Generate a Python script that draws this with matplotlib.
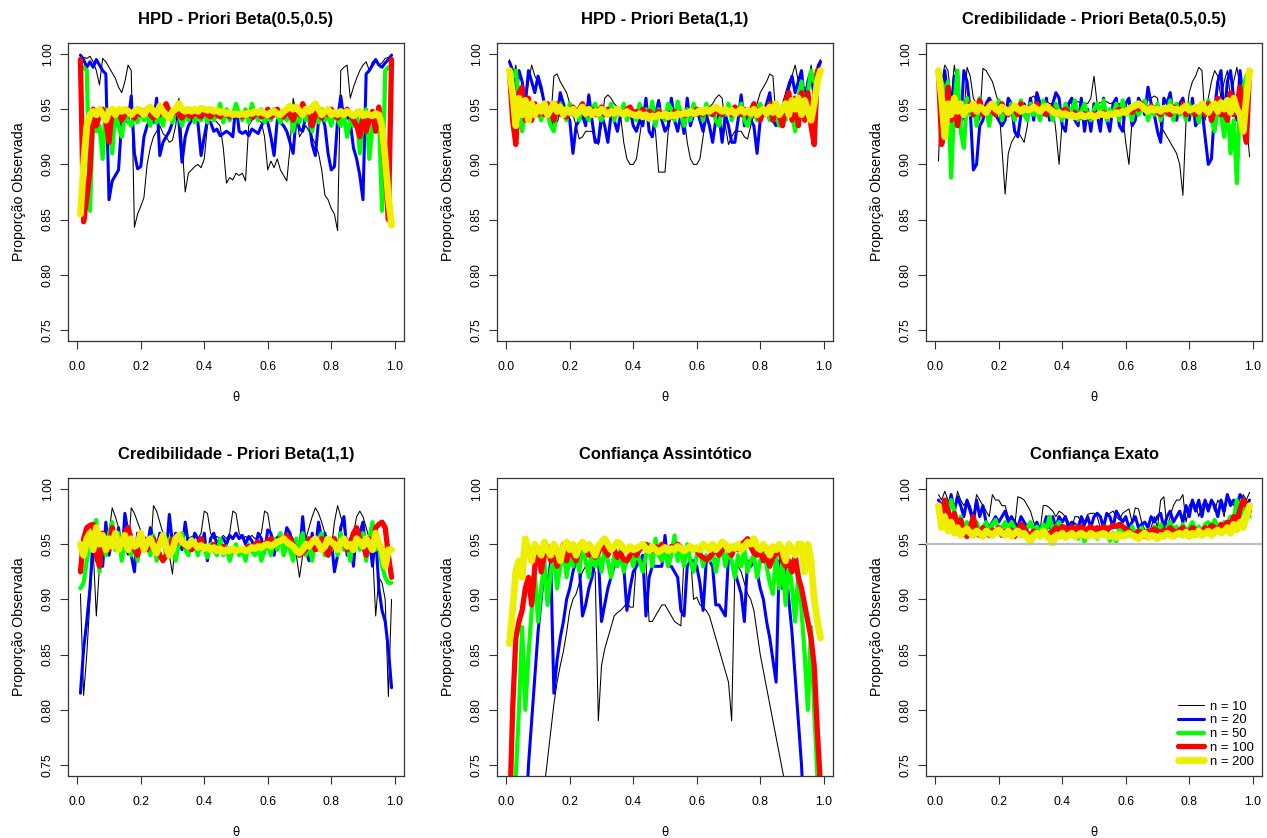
import matplotlib
matplotlib.use("Agg")
import matplotlib.pyplot as plt
import numpy as np

plt.rcParams['font.family'] = ['Liberation Sans', 'DejaVu Sans']

# theta grid 0.01 ... 0.99
theta = [i / 100 for i in range(1, 100)]
legend_labels = ["n = 10", "n = 20", "n = 50", "n = 100", "n = 200"]
titles = ["HPD - Priori Beta(0.5,0.5)", "HPD - Priori Beta(1,1)",
          "Credibilidade - Priori Beta(0.5,0.5)", "Credibilidade - Priori Beta(1,1)",
          "Confiança Assintótico", "Confiança Exato"]
x_ticks = [0.0, 0.2, 0.4, 0.6, 0.8, 1.0]
y_ticks = [0.75, 0.80, 0.85, 0.90, 0.95, 1.00]
nominal = 0.95

p1_n10 = [
    985, 997, 996, 998, 993, 985, 972, 996, 993, 988,
    983, 978, 970, 965, 975, 990, 985, 843, 855, 862,
    870, 900, 915, 925, 930, 935, 928, 925, 920, 922,
    935, 960, 920, 875, 892, 895, 898, 900, 897, 905,
    935, 945, 942, 938, 935, 915, 883, 888, 886, 892,
    890, 892, 885, 935, 940, 942, 940, 938, 925, 895,
    903, 897, 905, 895, 890, 885, 915, 960, 945, 925,
    930, 935, 930, 925, 918, 910, 895, 872, 868, 860,
    855, 840, 985, 988, 990, 960, 970, 978, 985, 990,
    993, 985, 993, 995, 990, 992, 996, 997, 985]
p1_n20 = [
    999, 995, 988, 993, 988, 995, 990, 985, 982, 868,
    885, 890, 895, 940, 945, 938, 962, 910, 896, 898,
    925, 935, 940, 938, 960, 908, 920, 925, 930, 938,
    945, 940, 902, 925, 935, 940, 940, 938, 908, 925,
    940, 938, 930, 932, 926, 928, 930, 928, 925, 955,
    930, 928, 930, 926, 932, 930, 928, 935, 940, 938,
    925, 908, 940, 938, 935, 930, 920, 910, 945, 932,
    930, 945, 940, 918, 908, 940, 945, 935, 910, 895,
    898, 940, 962, 940, 945, 938, 915, 905, 890, 868,
    982, 985, 990, 995, 990, 988, 992, 995, 999]
p1_n50 = [
    985, 988, 985, 858, 945, 930, 935, 905, 950, 940,
    910, 948, 935, 925, 945, 940, 935, 945, 938, 950,
    940, 945, 935, 950, 938, 945, 935, 950, 945, 938,
    950, 945, 935, 948, 940, 950, 938, 945, 940, 948,
    938, 950, 940, 945, 955, 938, 950, 940, 945, 955,
    945, 940, 950, 938, 955, 945, 940, 950, 938, 945,
    940, 950, 945, 938, 945, 940, 950, 930, 945, 938,
    950, 940, 945, 930, 945, 938, 950, 940, 945, 935,
    948, 940, 935, 945, 925, 940, 935, 948, 910, 940,
    950, 905, 935, 930, 945, 858, 985, 988, 985]
p1_n100 = [
    995, 848, 870, 895, 950, 935, 945, 950, 940, 920,
    950, 945, 948, 940, 945, 950, 945, 942, 948, 945,
    948, 950, 945, 942, 948, 945, 950, 955, 948, 945,
    950, 945, 942, 948, 945, 943, 948, 945, 943, 950,
    945, 943, 948, 945, 943, 948, 945, 943, 946, 944,
    946, 943, 945, 948, 943, 945, 948, 943, 945, 950,
    943, 945, 950, 945, 943, 948, 945, 940, 950, 945,
    955, 948, 950, 935, 945, 950, 942, 948, 945, 950,
    945, 942, 948, 945, 950, 945, 940, 935, 925, 945,
    930, 940, 948, 930, 952, 930, 895, 850, 995]
p1_n200 = [
    855, 900, 935, 945, 948, 945, 950, 945, 940, 948,
    950, 945, 950, 948, 950, 948, 945, 948, 950, 948,
    945, 950, 952, 948, 945, 953, 948, 945, 942, 948,
    950, 955, 950, 948, 950, 948, 950, 948, 951, 950,
    949, 950, 948, 949, 947, 948, 946, 947, 945, 946,
    945, 946, 945, 947, 946, 948, 947, 948, 946, 945,
    947, 948, 946, 945, 948, 950, 953, 950, 952, 948,
    945, 950, 948, 952, 955, 950, 945, 948, 950, 945,
    947, 945, 948, 945, 948, 946, 944, 946, 948, 944,
    946, 945, 944, 946, 945, 935, 905, 870, 845]

p2_n10 = [
    995, 975, 990, 965, 970, 955, 975, 990, 980, 975,
    965, 955, 945, 940, 980, 982, 975, 970, 965, 955,
    945, 935, 923, 925, 930, 930, 930, 925, 918, 935,
    960, 963, 960, 955, 952, 945, 920, 905, 900, 900,
    905, 925, 945, 948, 947, 945, 930, 893, 893, 893,
    930, 945, 947, 945, 948, 945, 920, 905, 900, 900,
    905, 925, 945, 952, 955, 960, 963, 960, 935, 918,
    925, 930, 930, 930, 925, 923, 935, 945, 955, 965,
    970, 975, 982, 980, 940, 945, 955, 965, 975, 980,
    990, 975, 955, 970, 965, 990, 975, 990, 995]
p2_n20 = [
    993, 985, 960, 985, 975, 955, 985, 975, 965, 980,
    970, 955, 950, 945, 935, 940, 965, 955, 945, 940,
    910, 935, 940, 945, 935, 963, 940, 920, 920, 945,
    935, 920, 945, 940, 930, 945, 950, 940, 950, 935,
    930, 940, 935, 960, 930, 925, 945, 958, 940, 930,
    935, 960, 940, 930, 945, 928, 960, 935, 945, 950,
    940, 930, 945, 935, 920, 940, 945, 920, 945, 935,
    920, 920, 940, 963, 935, 945, 940, 935, 910, 940,
    945, 955, 965, 940, 935, 945, 950, 955, 970, 980,
    965, 975, 985, 955, 975, 985, 960, 985, 993]
p2_n50 = [
    985, 980, 985, 960, 930, 950, 940, 955, 945, 950,
    940, 955, 945, 935, 930, 950, 955, 945, 940, 955,
    945, 950, 940, 955, 945, 940, 950, 955, 945, 940,
    950, 945, 955, 940, 950, 945, 955, 940, 950, 945,
    940, 955, 945, 950, 940, 957, 935, 950, 945, 940,
    955, 950, 940, 957, 945, 935, 950, 940, 955, 945,
    950, 940, 955, 945, 950, 940, 935, 950, 945, 955,
    940, 950, 945, 955, 940, 935, 945, 950, 940, 955,
    945, 950, 940, 955, 945, 935, 950, 940, 955, 945,
    930, 960, 975, 940, 965, 985, 975, 985, 985]
p2_n100 = [
    985, 940, 918, 965, 970, 940, 960, 940, 955, 945,
    950, 945, 955, 950, 940, 955, 945, 950, 943, 948,
    952, 945, 950, 955, 948, 945, 950, 945, 948, 952,
    945, 950, 947, 945, 950, 948, 945, 950, 952, 946,
    948, 945, 950, 944, 948, 946, 944, 948, 945, 947,
    945, 943, 948, 945, 947, 944, 948, 946, 945, 950,
    947, 945, 950, 948, 945, 950, 947, 945, 950, 948,
    945, 952, 948, 945, 950, 945, 948, 955, 945, 940,
    950, 945, 955, 940, 950, 945, 935, 955, 965, 940,
    960, 935, 965, 940, 965, 935, 918, 985, 985]
p2_n200 = [
    985, 965, 935, 960, 945, 958, 940, 955, 945, 952,
    948, 955, 945, 950, 955, 948, 952, 945, 950, 947,
    950, 945, 948, 952, 946, 950, 945, 948, 946, 950,
    948, 945, 948, 946, 950, 947, 945, 948, 946, 945,
    944, 946, 943, 945, 942, 944, 943, 945, 944, 946,
    943, 945, 944, 946, 945, 947, 946, 948, 946, 947,
    949, 947, 950, 948, 950, 952, 950, 948, 950, 947,
    949, 946, 948, 950, 947, 949, 946, 950, 945, 948,
    950, 946, 952, 947, 955, 945, 950, 955, 945, 958,
    950, 960, 945, 958, 948, 940, 955, 975, 985]

p3_n10 = [
    903, 975, 990, 985, 960, 990, 970, 955, 940, 988,
    980, 960, 955, 940, 987, 985, 980, 975, 965, 955,
    915, 873, 910, 920, 925, 930, 925, 920, 935, 960,
    962, 958, 955, 955, 957, 955, 955, 930, 900, 940,
    955, 955, 956, 955, 957, 955, 956, 955, 960, 980,
    955, 956, 955, 957, 955, 956, 955, 955, 945, 920,
    900, 940, 955, 957, 955, 955, 958, 960, 962, 960,
    935, 930, 925, 920, 915, 910, 900, 872, 940, 965,
    975, 980, 988, 985, 940, 960, 975, 985, 980, 960,
    975, 985, 960, 975, 988, 970, 960, 940, 907]
p3_n20 = [
    985, 930, 985, 960, 940, 980, 970, 935, 985, 975,
    950, 895, 900, 935, 940, 955, 960, 955, 945, 940,
    935, 940, 960, 955, 930, 925, 945, 955, 945, 960,
    940, 965, 955, 945, 960, 940, 955, 965, 960, 935,
    930, 955, 960, 940, 935, 960, 930, 950, 930, 955,
    945, 930, 960, 940, 930, 955, 960, 935, 930, 955,
    960, 935, 940, 960, 955, 945, 970, 955, 945, 930,
    920, 960, 955, 965, 945, 940, 955, 960, 945, 940,
    960, 935, 940, 950, 925, 900, 905, 950, 975, 985,
    940, 975, 985, 960, 940, 985, 960, 930, 985]
p3_n50 = [
    985, 975, 965, 975, 888, 955, 985, 930, 915, 960,
    945, 955, 935, 960, 945, 950, 935, 955, 945, 958,
    940, 950, 945, 955, 940, 950, 958, 945, 940, 955,
    945, 950, 940, 958, 945, 950, 940, 955, 948, 940,
    955, 945, 950, 958, 940, 948, 955, 945, 940, 950,
    955, 945, 958, 940, 950, 945, 955, 940, 958, 945,
    950, 940, 955, 945, 950, 958, 940, 950, 945, 955,
    940, 950, 945, 958, 940, 955, 945, 950, 940, 955,
    945, 950, 938, 955, 945, 958, 940, 930, 950, 945,
    925, 955, 910, 940, 883, 960, 970, 980, 985]
p3_n100 = [
    985, 918, 935, 970, 940, 960, 935, 955, 945, 950,
    955, 945, 950, 958, 945, 950, 955, 948, 945, 950,
    955, 948, 945, 952, 950, 945, 955, 950, 948, 952,
    950, 955, 948, 950, 945, 952, 950, 947, 945, 948,
    950, 946, 944, 947, 945, 943, 946, 945, 943, 946,
    944, 945, 947, 944, 946, 945, 948, 950, 946, 948,
    950, 947, 952, 950, 955, 950, 948, 953, 950, 947,
    945, 950, 948, 945, 952, 950, 947, 955, 945, 950,
    948, 945, 952, 950, 945, 955, 940, 950, 960, 945,
    955, 940, 965, 945, 955, 970, 935, 920, 985]
p3_n200 = [
    985, 960, 925, 955, 945, 960, 948, 955, 945, 952,
    950, 955, 948, 952, 950, 947, 952, 955, 950, 948,
    952, 950, 947, 950, 953, 950, 948, 951, 949, 950,
    952, 950, 948, 951, 953, 950, 948, 946, 947, 945,
    946, 944, 945, 943, 944, 945, 943, 944, 945, 943,
    944, 946, 945, 944, 946, 945, 947, 946, 948, 947,
    950, 952, 953, 955, 953, 950, 948, 951, 949, 950,
    948, 951, 950, 952, 949, 950, 948, 951, 953, 949,
    950, 952, 948, 955, 950, 947, 952, 955, 948, 956,
    950, 958, 947, 960, 950, 945, 930, 960, 985]

p4_n10 = [
    905, 813, 850, 900, 945, 885, 930, 955, 940, 960,
    983, 975, 965, 955, 945, 940, 983, 978, 970, 962,
    955, 945, 940, 985, 980, 970, 960, 955, 940, 923,
    960, 958, 955, 960, 955, 957, 958, 955, 960, 980,
    978, 960, 955, 957, 955, 958, 955, 960, 980, 978,
    960, 955, 957, 955, 958, 955, 957, 960, 980, 978,
    960, 955, 957, 958, 955, 957, 960, 955, 940, 920,
    940, 955, 965, 975, 983, 978, 970, 960, 955, 945,
    970, 985, 975, 965, 955, 945, 960, 975, 980, 975,
    965, 955, 945, 885, 920, 915, 900, 812, 900]
p4_n20 = [
    815, 855, 880, 910, 955, 935, 960, 930, 970, 940,
    955, 945, 965, 935, 978, 960, 940, 925, 960, 955,
    950, 945, 965, 955, 945, 960, 955, 940, 977, 950,
    960, 955, 945, 970, 950, 945, 960, 955, 945, 960,
    935, 955, 960, 950, 955, 955, 950, 958, 955, 960,
    955, 958, 950, 957, 953, 945, 960, 955, 942, 963,
    960, 940, 955, 960, 950, 965, 960, 945, 955, 940,
    975, 945, 935, 960, 945, 970, 955, 960, 940, 955,
    925, 940, 965, 975, 940, 955, 930, 965, 960, 970,
    940, 955, 930, 960, 910, 890, 880, 855, 820]
p4_n50 = [
    910, 915, 935, 950, 965, 972, 925, 955, 940, 960,
    970, 945, 960, 935, 955, 965, 940, 950, 935, 960,
    945, 955, 940, 958, 935, 950, 960, 940, 955, 945,
    935, 950, 960, 945, 940, 955, 950, 940, 955, 945,
    938, 950, 945, 940, 955, 940, 948, 935, 945, 950,
    940, 945, 935, 950, 943, 940, 948, 935, 945, 950,
    940, 955, 945, 960, 940, 950, 945, 935, 955, 945,
    960, 940, 950, 935, 955, 945, 960, 940, 950, 945,
    955, 940, 960, 945, 950, 935, 955, 965, 945, 960,
    935, 955, 970, 945, 950, 930, 920, 915, 915]
p4_n100 = [
    925, 955, 965, 967, 968, 940, 930, 960, 950, 945,
    965, 955, 945, 950, 960, 965, 955, 945, 940, 950,
    955, 945, 950, 955, 948, 940, 935, 940, 945, 955,
    950, 955, 952, 948, 950, 945, 948, 950, 955, 946,
    948, 945, 950, 944, 946, 948, 945, 944, 946, 945,
    944, 946, 945, 948, 946, 950, 952, 948, 950, 953,
    955, 950, 952, 955, 953, 958, 955, 950, 945, 940,
    942, 945, 955, 950, 945, 948, 955, 945, 940, 950,
    955, 945, 950, 955, 945, 950, 960, 965, 955, 950,
    940, 955, 945, 965, 968, 970, 965, 940, 920]
p4_n200 = [
    950, 940, 955, 960, 945, 965, 950, 958, 945, 955,
    948, 960, 945, 952, 958, 945, 955, 948, 950, 960,
    945, 952, 955, 948, 942, 950, 958, 948, 940, 945,
    955, 958, 952, 950, 948, 953, 950, 947, 949, 946,
    948, 945, 947, 944, 946, 943, 945, 944, 946, 944,
    945, 946, 944, 945, 947, 946, 948, 947, 949, 950,
    948, 950, 952, 953, 955, 952, 950, 948, 944, 942,
    945, 950, 948, 952, 955, 950, 945, 948, 955, 952,
    950, 945, 952, 955, 948, 950, 945, 955, 952, 948,
    955, 950, 945, 960, 950, 945, 930, 945, 945]

p5_n10 = [
    96, 180, 260, 330, 400, 460, 520, 570, 610, 650,
    700, 730, 755, 780, 805, 825, 840, 853, 870, 890,
    900, 905, 915, 925, 930, 925, 930, 925, 790, 840,
    855, 865, 875, 885, 888, 890, 893, 897, 893, 893,
    935, 935, 935, 935, 880, 880, 885, 890, 895, 895,
    890, 885, 880, 878, 876, 940, 940, 940, 900, 902,
    895, 893, 890, 885, 875, 865, 855, 845, 835, 825,
    790, 925, 930, 925, 915, 905, 900, 890, 870, 850,
    835, 820, 805, 790, 775, 760, 745, 730, 700, 650,
    610, 570, 520, 460, 400, 330, 260, 180, 96]
p5_n20 = [
    180, 330, 450, 550, 630, 690, 750, 790, 830, 870,
    900, 930, 910, 935, 815, 845, 865, 880, 900, 910,
    925, 935, 930, 885, 895, 910, 920, 935, 940, 880,
    895, 910, 920, 930, 935, 935, 930, 890, 910, 925,
    930, 935, 940, 885, 920, 930, 930, 930, 930, 958,
    930, 930, 925, 920, 890, 885, 930, 935, 935, 930,
    915, 890, 935, 935, 930, 895, 895, 890, 885, 940,
    935, 925, 915, 905, 880, 935, 930, 935, 925, 910,
    900, 880, 865, 845, 825, 935, 910, 930, 900, 870,
    830, 790, 750, 690, 630, 550, 450, 330, 180]
p5_n50 = [
    400, 630, 740, 800, 875, 800, 850, 890, 925, 880,
    910, 935, 895, 925, 940, 910, 930, 945, 920, 940,
    930, 945, 925, 950, 935, 920, 945, 930, 940, 925,
    948, 935, 920, 940, 930, 945, 925, 935, 940, 930,
    945, 935, 925, 940, 950, 930, 955, 940, 935, 945,
    930, 940, 958, 935, 945, 930, 950, 935, 925, 940,
    945, 930, 940, 935, 945, 925, 940, 948, 930, 945,
    935, 920, 940, 930, 945, 925, 935, 940, 920, 935,
    945, 930, 915, 905, 940, 910, 935, 895, 935, 910,
    880, 925, 890, 850, 800, 875, 800, 740, 600]
p5_n100 = [
    700, 800, 865, 880, 890, 910, 920, 895, 930, 945,
    925, 940, 948, 935, 945, 930, 940, 950, 935, 945,
    940, 935, 945, 952, 948, 940, 945, 938, 942, 950,
    945, 940, 948, 945, 938, 942, 936, 935, 940, 945,
    940, 945, 948, 950, 946, 944, 948, 945, 950, 946,
    944, 948, 945, 950, 947, 944, 946, 948, 945, 944,
    940, 938, 936, 938, 942, 945, 940, 945, 950, 945,
    940, 948, 945, 950, 952, 955, 948, 942, 940, 945,
    935, 940, 930, 938, 942, 945, 935, 930, 935, 925,
    940, 920, 910, 895, 880, 865, 840, 780, 730]
p5_n200 = [
    860, 890, 925, 935, 920, 955, 945, 935, 950, 945,
    940, 952, 945, 940, 950, 945, 935, 948, 952, 945,
    950, 940, 948, 952, 945, 950, 946, 940, 948, 952,
    955, 950, 945, 948, 952, 950, 946, 944, 948, 945,
    946, 948, 950, 946, 944, 948, 945, 943, 945, 947,
    944, 946, 945, 948, 946, 944, 946, 948, 945, 947,
    945, 950, 948, 945, 950, 945, 948, 952, 950, 945,
    948, 946, 950, 945, 948, 952, 950, 955, 948, 945,
    950, 946, 940, 948, 945, 950, 945, 935, 950, 945,
    940, 950, 950, 925, 950, 935, 900, 880, 865]

p6_n10 = [
    995, 990, 998, 990, 985, 980, 998, 990, 985, 990,
    985, 975, 995, 990, 985, 980, 975, 995, 990, 990,
    985, 985, 975, 970, 965, 993, 992, 990, 985, 980,
    970, 965, 962, 985, 985, 983, 980, 975, 980, 978,
    975, 970, 965, 975, 975, 970, 965, 977, 978, 978,
    975, 965, 970, 975, 978, 980, 975, 972, 978, 980,
    982, 970, 983, 982, 970, 963, 962, 965, 975, 965,
    990, 993, 965, 975, 985, 990, 990, 995, 970, 985,
    990, 985, 975, 985, 990, 985, 990, 980, 990, 985,
    975, 995, 990, 985, 990, 980, 995, 990, 997]
p6_n20 = [
    990, 985, 990, 980, 995, 980, 993, 985, 975, 990,
    980, 970, 990, 975, 985, 970, 965, 970, 975, 970,
    975, 980, 970, 975, 970, 965, 975, 970, 965, 968,
    965, 970, 963, 965, 975, 965, 975, 965, 975, 970,
    975, 965, 970, 968, 965, 975, 968, 975, 965, 975,
    978, 975, 965, 978, 975, 965, 980, 975, 970, 975,
    965, 970, 975, 965, 968, 970, 965, 975, 970, 975,
    978, 965, 975, 980, 970, 975, 980, 970, 985, 975,
    990, 980, 990, 975, 990, 980, 990, 985, 975, 990,
    980, 995, 985, 990, 985, 995, 990, 985, 990]
p6_n50 = [
    980, 975, 985, 975, 990, 980, 970, 975, 965, 970,
    965, 962, 970, 962, 965, 970, 960, 968, 972, 962,
    965, 970, 960, 970, 965, 962, 968, 960, 965, 970,
    962, 966, 960, 968, 963, 975, 962, 966, 970, 960,
    965, 958, 962, 966, 955, 963, 952, 962, 958, 965,
    955, 962, 958, 966, 953, 960, 952, 965, 960, 963,
    958, 966, 960, 962, 965, 958, 963, 960, 966, 962,
    968, 960, 965, 970, 962, 966, 960, 968, 962, 965,
    970, 962, 966, 960, 968, 970, 965, 972, 966, 965,
    970, 968, 975, 972, 990, 975, 985, 980, 975]
p6_n100 = [
    985, 975, 990, 980, 970, 978, 965, 972, 960, 957,
    965, 975, 960, 958, 965, 962, 958, 963, 960, 965,
    958, 962, 960, 963, 957, 962, 968, 965, 960, 958,
    962, 960, 957, 962, 958, 960, 962, 965, 963, 966,
    965, 962, 966, 963, 965, 966, 962, 964, 966, 963,
    965, 962, 966, 963, 965, 967, 966, 968, 966, 964,
    962, 960, 958, 962, 960, 957, 962, 960, 964, 962,
    960, 963, 962, 965, 962, 960, 963, 965, 960, 962,
    965, 963, 960, 962, 965, 963, 967, 965, 962, 968,
    966, 970, 968, 975, 970, 982, 990, 985, 980]
p6_n200 = [
    985, 965, 975, 962, 970, 960, 965, 958, 962, 964,
    960, 958, 962, 960, 957, 962, 960, 958, 961, 963,
    960, 958, 962, 957, 960, 962, 958, 960, 956, 952,
    958, 960, 957, 962, 958, 955, 951, 958, 957, 960,
    956, 958, 960, 957, 958, 960, 958, 957, 960, 958,
    957, 959, 960, 958, 957, 958, 956, 959, 957, 958,
    960, 958, 957, 955, 958, 960, 956, 958, 957, 955,
    958, 957, 960, 958, 957, 959, 960, 958, 961, 957,
    960, 958, 962, 958, 960, 962, 958, 961, 963, 960,
    962, 965, 960, 968, 963, 970, 965, 975, 985]

panels = [
    [p1_n10, p1_n20, p1_n50, p1_n100, p1_n200],
    [p2_n10, p2_n20, p2_n50, p2_n100, p2_n200],
    [p3_n10, p3_n20, p3_n50, p3_n100, p3_n200],
    [p4_n10, p4_n20, p4_n50, p4_n100, p4_n200],
    [p5_n10, p5_n20, p5_n50, p5_n100, p5_n200],
    [p6_n10, p6_n20, p6_n50, p6_n100, p6_n200],
]

colors = ["#000000", "#0000FF", "#00FF00", "#FF0000", "#EEEE00"]
widths = [0.75, 2.2, 3.0, 3.8, 4.9]

W, H = 1267, 838
fig = plt.figure(figsize=(W / 100, H / 100), dpi=100)
lefts = [68, 497, 926]
tops = [43, 478]
aw, ah = 336, 298

theta_arr = np.array(theta)
for k, series in enumerate(panels):
    r, c = divmod(k, 3)
    ax = fig.add_axes([lefts[c] / W, 1 - (tops[r] + ah) / H, aw / W, ah / H])
    for s, col, lw in zip(series, colors, widths):
        ax.plot(theta_arr, np.array(s) / 1000.0, color=col, lw=lw,
                solid_capstyle='round', solid_joinstyle='round')
    if k == 5:
        ax.axhline(nominal, color="#BEBEBE", lw=1.6, zorder=5)
    ax.set_xlim(-0.0292, 1.0292)
    ax.set_ylim(0.74, 1.01)
    ax.set_xticks(x_ticks)
    ax.set_xticklabels([f"{v:.1f}" for v in x_ticks])
    ax.set_yticks(y_ticks)
    ax.set_yticklabels([f"{v:.2f}" for v in y_ticks])
    ax.tick_params(axis='both', direction='out', length=6, width=0.8,
                   labelsize=8.7, color="#333333")
    ax.tick_params(axis='x', pad=8.5)
    ax.tick_params(axis='y', pad=4.3, labelrotation=90)
    for lbl in ax.get_yticklabels():
        lbl.set_va('center')
    for sp in ax.spines.values():
        sp.set_linewidth(0.9)
        sp.set_color("#333333")
    ax.set_title(titles[k], fontsize=11.9, fontweight='bold', pad=14)
    ax.set_xlabel("θ", fontsize=8.5, labelpad=13, family=['DejaVu Sans'])
    ax.set_ylabel("Proporção Observada", fontsize=10.2, labelpad=11)
    if k == 5:
        handles = [plt.Line2D([], [], color=col, lw=lw, solid_capstyle='round')
                   for col, lw in zip(colors, widths)]
        ax.legend(handles, legend_labels, loc='lower right', frameon=False,
                  fontsize=9.4, handlelength=2.0, handletextpad=0.45,
                  labelspacing=0.12, borderaxespad=0.45, borderpad=0.2)

fig.savefig("out.png", dpi=100)
